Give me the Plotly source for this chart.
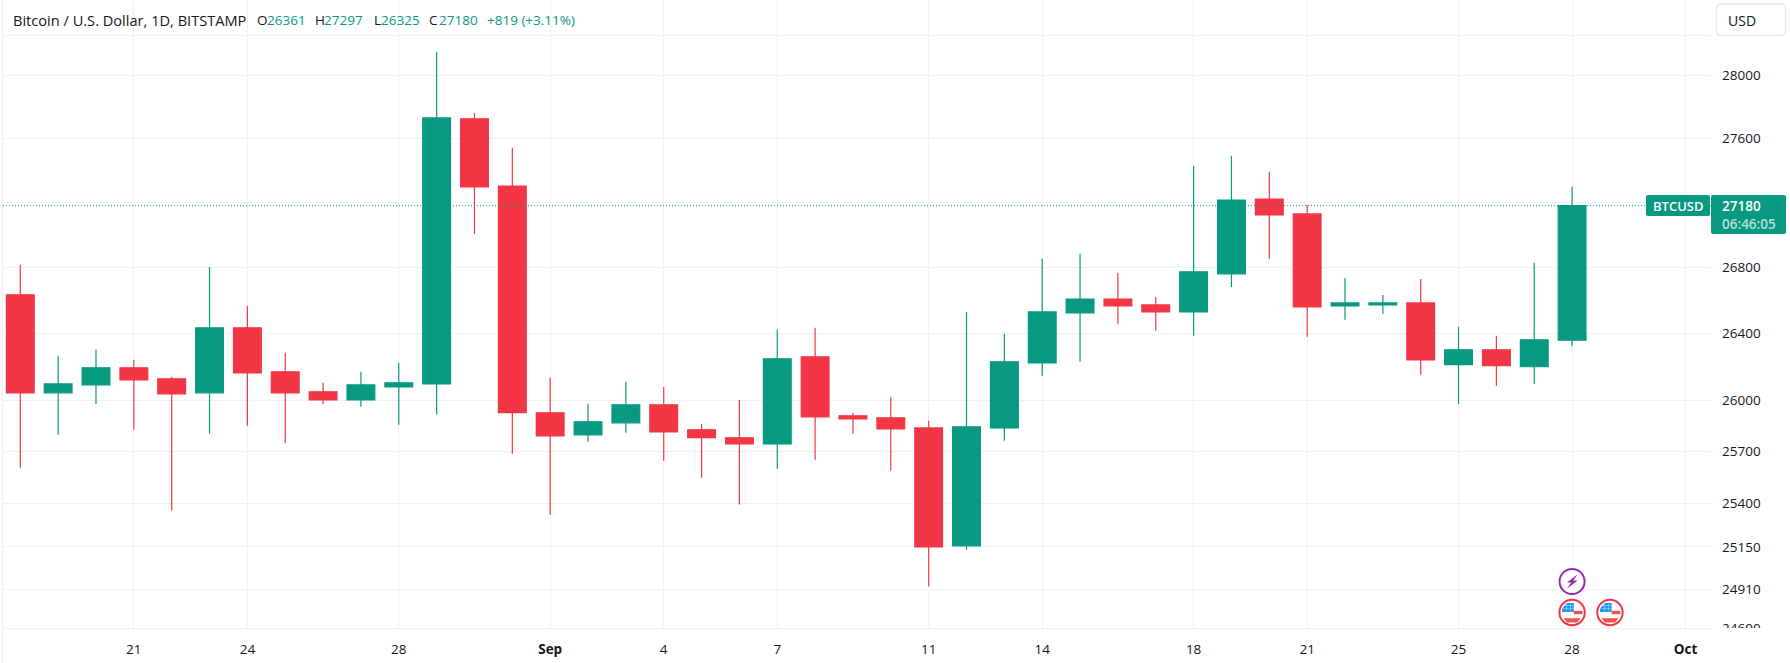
import pandas as pd
import plotly.graph_objects as go

# daily candles, values
dates = pd.date_range("2023-08-18", "2023-09-28", freq="D")
opens = [26634, 26047, 26094, 26196, 26130, 26047, 26435, 26172, 26053, 26005, 26082, 26100,
         27722, 27302, 25929, 25799, 25870, 25976, 25829, 25782, 25746, 26261, 25911, 25899,
         25840, 25156, 25840, 26225, 26525, 26609, 26573, 26531, 26762, 27221, 27129, 26567,
         26573, 26585, 26214, 26303, 26202, 26361]
highs = [26817, 26267, 26303, 26243, 26142, 26804, 26567, 26285, 26106, 26172, 26226, 28147,
         27759, 27540, 26136, 25981, 26112, 26082, 25864, 26005, 26423, 26435, 25929, 26021,
         25882, 26531, 26399, 26853, 26884, 26768, 26621, 27427, 27490, 27390, 27184, 26737,
         26633, 26731, 26441, 26387, 26829, 27297]
lows = [25607, 25799, 25981, 25829, 25358, 25805, 25852, 25752, 25981, 25964, 25858, 25917,
        27006, 25688, 25335, 25758, 25811, 25647, 25549, 25393, 25601, 25653, 25805, 25590,
        24924, 25133, 25764, 26148, 26231, 26459, 26417, 26387, 26682, 26853, 26381, 26483,
        26519, 26154, 25981, 26088, 26100, 26325]
closes = [26047, 26100, 26196, 26124, 26041, 26435, 26166, 26047, 26005, 26094, 26106, 27728,
          27296, 25929, 25793, 25876, 25976, 25817, 25782, 25746, 26249, 25905, 25893, 25834,
          25150, 25846, 26231, 26531, 26609, 26567, 26531, 26774, 27215, 27123, 26561, 26585,
          26585, 26243, 26303, 26208, 26363, 27180]

price_ticks = [28250, 28000, 27600, 27200, 26800, 26400, 26000, 25700, 25400, 25150, 24910, 24690]
price_labels = ["", "28000", "27600", "", "26800", "26400", "26000", "25700", "25400", "25150", "24910", "24690"]
date_ticks = ["2023-08-21", "2023-08-24", "2023-08-28", "2023-09-01", "2023-09-04", "2023-09-07",
              "2023-09-11", "2023-09-14", "2023-09-18", "2023-09-21", "2023-09-25", "2023-09-28", "2023-10-01"]
date_labels = ["21", "24", "28", "<b>Sep</b>", "4", "7", "11", "14", "18", "21", "25", "28", "<b>Oct</b>"]

GREEN = "#089981"
RED = "#F23645"
TEXT = "#131722"
GRID = "#f1f1f3"
FONT = "Open Sans"

WIDTH, HEIGHT = 1790, 663
LEFT, RIGHT, BOTTOM = 3, 79, 35


def rounded_box(x0, y0, x1, y1, r, fill, line_color=None, line_width=0):
    """Rounded box given in page pixels, anchored to the top left of the plot"""
    l, r_edge = x0 - LEFT, x1 - LEFT
    t, b = -y0, -y1
    path = (f"M{l + r},{t} L{r_edge - r},{t} Q{r_edge},{t} {r_edge},{t - r} "
            f"L{r_edge},{b + r} Q{r_edge},{b} {r_edge - r},{b} "
            f"L{l + r},{b} Q{l},{b} {l},{b + r} L{l},{t - r} Q{l},{t} {l + r},{t} Z")
    return dict(type="path", path=path, xref="paper", yref="paper", xsizemode="pixel", ysizemode="pixel",
                xanchor=0, yanchor=1, fillcolor=fill, line=dict(color=line_color or fill, width=line_width))


def event_shape(kind, path_or_box, date, up, fill="rgba(0,0,0,0)", line_color="rgba(0,0,0,0)", line_width=0):
    """Shape sized in pixels around a date on the x axis, up = pixels above the axis"""
    shape = dict(type=kind, xref="x", yref="paper", xsizemode="pixel", ysizemode="pixel",
                 xanchor=date, yanchor=0, fillcolor=fill, line=dict(color=line_color, width=line_width))
    if kind == "path":
        shape["path"] = path_or_box
    else:
        x0, y0, x1, y1 = path_or_box
        shape.update(x0=x0, y0=y0 + up, x1=x1, y1=y1 + up)
    return shape


def flag_marks(date):
    up = 15.5
    marks = [event_shape("circle", (-12.7, -12.7, 12.7, 12.7), date, up, "white", RED, 2)]
    marks.append(event_shape("rect", (1.7, -1.7, 10.5, 1.7), date, up, "#EF5350"))
    marks.append(event_shape("path", f"M-8.5,{up - 5.7} L8.5,{up - 5.7} L5,{up - 10} L-5,{up - 10} Z", date, up, "#EF5350"))
    marks.append(event_shape("path", f"M-10,{up + 0.5} L1.7,{up + 0.5} L1.7,{up + 9.5} L-5,{up + 9.5} L-10,{up + 4} Z",
                             date, up, "#2196F3"))
    for dx in (-5.5, -2):
        marks.append(event_shape("rect", (dx, 0.5, dx + 0.6, 9), date, up, "rgba(255,255,255,0.55)"))
    for dy in (3.5, 6.5):
        marks.append(event_shape("rect", (-10, dy, 1.7, dy + 0.6), date, up, "rgba(255,255,255,0.55)"))
    return marks


def bolt_marks(date):
    up = 46.5
    bolt = [(5.5, 7.2), (-5.2, -1), (-0.8, -1), (-5.2, -7.2), (5.5, 1), (1.2, 1)]
    path = "M" + " L".join(f"{x},{y + up}" for x, y in bolt) + " Z"
    return [event_shape("circle", (-12.5, -12.5, 12.5, 12.5), date, up, "white", "#9C27B0", 2),
            event_shape("path", path, date, up, "#9C27B0")]


def page_text(text, x, y, color=TEXT, size=13.5, weight=400):
    return dict(text=text, x=0, y=1, xref="paper", yref="paper", xshift=x - LEFT, yshift=-y,
                xanchor="left", yanchor="middle", showarrow=False, borderpad=0,
                font=dict(family=FONT, size=size, color=color, weight=weight))


change = closes[-1] - opens[-1]
change_pct = change / opens[-1] * 100

fig = go.Figure()
fig.add_trace(go.Candlestick(
    x=dates, open=opens, high=highs, low=lows, close=closes,
    increasing=dict(line=dict(color=GREEN, width=1.2), fillcolor=GREEN),
    decreasing=dict(line=dict(color=RED, width=1.2), fillcolor=RED),
    whiskerwidth=0,
    showlegend=False,
))

shapes = [
    # left border of the chart pane
    dict(type="line", xref="paper", yref="paper", x0=-0.0003, x1=-0.0003, y0=-0.06, y1=1,
         line=dict(color="#f0f0f8", width=1.5)),
    # last price line
    dict(type="line", xref="paper", yref="y", x0=0, x1=1, y0=closes[-1], y1=closes[-1],
         line=dict(color=GREEN, width=1, dash="1px,2px")),
    # hides the lower half of the lowest price label
    dict(type="rect", xref="paper", yref="paper", x0=1.0001, x1=1.05, y0=-0.06, y1=0, fillcolor="white", line_width=0),
    rounded_box(1716.5, 4, 1785.5, 35.5, 5, "white", "#e6e8f0", 1.5),
    rounded_box(1646, 195, 1710, 216, 2, GREEN),
    rounded_box(1711, 195, 1786, 234, 2, GREEN),
]
shapes += bolt_marks("2023-09-28") + flag_marks("2023-09-28") + flag_marks("2023-09-29")

annotations = [
    page_text("Bitcoin / U.S. Dollar, 1D, BITSTAMP", 12, 19.5, size=14.6),
    page_text("O", 256, 19.5),
    page_text(str(opens[-1]), 266, 19.5, GREEN),
    page_text("H", 314, 19.5),
    page_text(str(highs[-1]), 323, 19.5, GREEN),
    page_text("L", 373, 19.5),
    page_text(str(lows[-1]), 380, 19.5, GREEN),
    page_text("C", 428, 19.5),
    page_text(str(closes[-1]), 437.5, 19.5, GREEN),
    page_text(f"{change:+d} ({change_pct:+.2f}%)", 486, 19.5, GREEN),
    page_text("USD", 1727, 20, size=14),
    page_text("BTCUSD", 1652, 205.5, "white", 13, 600),
    page_text(str(closes[-1]), 1720.5, 205.5, "white", 13.5, 600),
    page_text("06:46:05", 1720.5, 224, "rgba(255,255,255,0.72)", 13.5, 600),
]

fig.update_layout(
    width=WIDTH,
    height=HEIGHT,
    margin=dict(l=LEFT, r=RIGHT, t=0, b=BOTTOM, autoexpand=False),
    paper_bgcolor="white",
    plot_bgcolor="white",
    boxgap=0.266,
    boxgroupgap=0,
    hovermode=False,
    dragmode=False,
    font=dict(family=FONT, size=13.5, color=TEXT),
    shapes=shapes,
    annotations=annotations,
    xaxis=dict(
        type="date",
        range=["2023-08-17 13:02", "2023-10-01 16:05"],
        rangeslider=dict(visible=False),
        tickmode="array",
        tickvals=date_ticks,
        ticktext=date_labels,
        ticks="",
        ticklabelstandoff=9,
        showgrid=True,
        gridcolor=GRID,
        gridwidth=1,
        showline=True,
        linecolor="#eeeeef",
        linewidth=1,
        zeroline=False,
    ),
    yaxis=dict(
        type="log",
        side="right",
        range=[4.39252, 4.45457],
        tickmode="array",
        tickvals=price_ticks,
        ticktext=price_labels,
        ticks="",
        ticklabelstandoff=10,
        showgrid=True,
        gridcolor=GRID,
        gridwidth=1,
        showline=False,
        zeroline=False,
    ),
)

fig.write_html("out.html", config=dict(displayModeBar=False),
               post_script="document.body.style.margin='0';document.body.style.overflow='hidden';")
